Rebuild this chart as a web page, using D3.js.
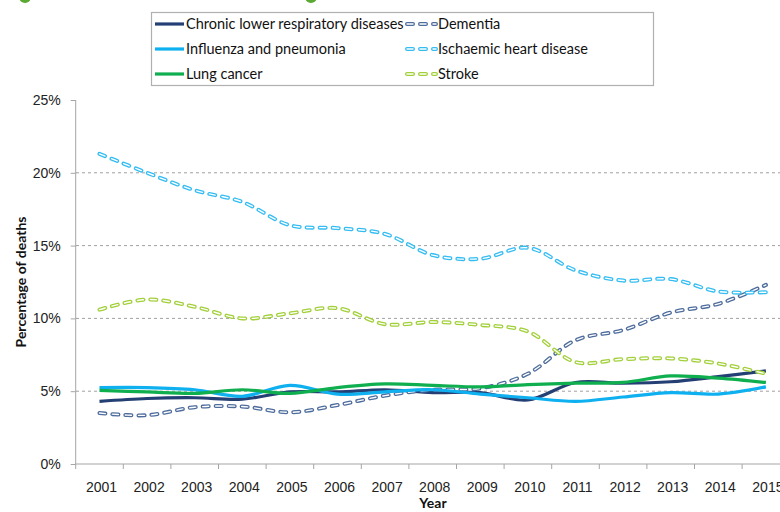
<!DOCTYPE html>
<html>
<head>
<meta charset="utf-8">
<script src="https://cdn.jsdelivr.net/npm/d3@7"></script>
<style>
  body { margin: 0; background: #fff; }
  svg { display: block; font-family: Lato, "Open Sans", sans-serif; }
  .axis text { font-size: 14px; fill: #222; }
  .axis path, .axis line { stroke: #a6a6a6; }
</style>
</head>
<body>
<div id="chart"></div>
<script>
const years = ['2001','2002','2003','2004','2005','2006','2007','2008','2009','2010','2011','2012','2013','2014','2015'];
const yTicks = [0, 5, 10, 15, 20, 25];

const clrd      = [4.3, 4.5, 4.55, 4.45, 4.95, 4.95, 5.1, 4.9, 4.9, 4.4, 5.6, 5.55, 5.65, 6.0, 6.4];
const dementia  = [3.5, 3.35, 3.9, 3.95, 3.55, 4.05, 4.7, 5.1, 5.2, 6.2, 8.5, 9.2, 10.4, 11.0, 12.3];
const influenza = [5.25, 5.25, 5.1, 4.65, 5.4, 4.8, 4.95, 5.1, 4.8, 4.55, 4.3, 4.6, 4.9, 4.8, 5.3];
const ihd       = [21.3, 20.0, 18.8, 18.0, 16.4, 16.2, 15.8, 14.35, 14.1, 14.85, 13.3, 12.6, 12.7, 11.85, 11.8];
const lung      = [5.05, 4.95, 4.85, 5.1, 4.85, 5.25, 5.5, 5.4, 5.3, 5.45, 5.55, 5.6, 6.05, 5.9, 5.6];
const stroke    = [10.6, 11.3, 10.8, 10.0, 10.35, 10.7, 9.6, 9.75, 9.55, 9.1, 7.0, 7.2, 7.25, 6.9, 6.2];

const series = [
  { name: 'Chronic lower respiratory diseases', values: clrd, color: '#243f73', dashed: false },
  { name: 'Dementia', values: dementia, color: '#4e6d9c', dashed: true },
  { name: 'Influenza and pneumonia', values: influenza, color: '#0fb0f0', dashed: false },
  { name: 'Ischaemic heart disease', values: ihd, color: '#35bdf2', dashed: true },
  { name: 'Lung cancer', values: lung, color: '#0fae4f', dashed: false },
  { name: 'Stroke', values: stroke, color: '#a2d03a', dashed: true }
];

const W = 780, H = 512;
const svg = d3.select('#chart').append('svg').attr('width', W).attr('height', H);

// little green marks peeking in at the top
svg.selectAll('circle.dot').data([25, 311]).enter().append('circle')
  .attr('cx', d => d).attr('cy', -3).attr('r', 6).attr('fill', '#5aaa32');

const x = d3.scaleBand().domain(years).range([75.7, 789.7]).padding(0);
const y = d3.scaleLinear().domain([0, 25]).range([464, 100]);
const xc = d => x(d) + x.bandwidth() / 2;

// gridlines
svg.append('g').selectAll('line').data(yTicks.filter(d => d > 0 && d < 25)).enter().append('line')
  .attr('x1', 76).attr('x2', W).attr('y1', d => y(d)).attr('y2', d => y(d))
  .attr('stroke', '#a0a0a0').attr('stroke-dasharray', '3,3');

// y axis
const yAxis = svg.append('g').attr('class', 'axis').attr('transform', 'translate(75.7,0)')
  .call(d3.axisLeft(y).tickValues(yTicks).tickFormat(d => d + '%').tickSize(5).tickSizeOuter(0).tickPadding(10));
yAxis.select('.domain').attr('d', `M0,${y(25)}V${y(0)}`);

// x axis
const xAxis = svg.append('g').attr('class', 'axis').attr('transform', 'translate(0,464)')
  .call(d3.axisBottom(x).tickSize(0).tickPadding(18));
xAxis.selectAll('.tick text').attr('dx', 2);
xAxis.select('.domain').attr('d', `M75.7,0H${W}`);
xAxis.selectAll('line.bound').data(years).enter().append('line').attr('class', 'bound')
  .attr('x1', d => x(d)).attr('x2', d => x(d)).attr('y1', 0).attr('y2', 5);

// axis titles
svg.append('text').attr('x', 433).attr('y', 508).attr('text-anchor', 'middle')
  .attr('font-size', 14).attr('font-weight', 'bold').attr('fill', '#111').text('Year');
svg.append('text').attr('transform', 'translate(26,282) rotate(-90)').attr('text-anchor', 'middle')
  .attr('font-size', 14).attr('font-weight', 'bold').attr('fill', '#111').text('Percentage of deaths');

// lines
const line = d3.line().x((d, i) => xc(years[i])).y(d => y(d)).curve(d3.curveCatmullRom.alpha(0.5));

function drawStroke(g, s, d) {
  if (s.dashed) {
    g.append('path').attr('d', d).attr('fill', 'none').attr('stroke', s.color)
      .attr('stroke-width', 4).attr('stroke-dasharray', '6,7').attr('stroke-linecap', 'round');
    g.append('path').attr('d', d).attr('fill', 'none').attr('stroke', '#fff')
      .attr('stroke-width', 1.4).attr('stroke-dasharray', '6,7').attr('stroke-linecap', 'round');
  } else {
    g.append('path').attr('d', d).attr('fill', 'none').attr('stroke', s.color)
      .attr('stroke-width', 3.2);
  }
}

const lines = svg.append('g');
series.forEach(s => drawStroke(lines.append('g'), s, line(s.values)));

// legend
const legend = svg.append('g');
legend.append('rect').attr('x', 151.5).attr('y', 12.5).attr('width', 502).attr('height', 73)
  .attr('fill', '#fff').attr('stroke', '#b0b0b0').attr('stroke-width', 1.2);
series.forEach((s, i) => {
  const col = i % 2, row = Math.floor(i / 2);
  const lx = col ? 405 : 153, ly = 24 + row * 25;
  const g = legend.append('g');
  drawStroke(g, s, `M${lx + 2},${ly}H${lx + 31}`);
  g.append('text').attr('x', lx + 33).attr('y', ly).attr('dy', '0.35em')
    .attr('font-size', 14.5).attr('fill', '#111').text(s.name);
});
</script>
</body>
</html>
